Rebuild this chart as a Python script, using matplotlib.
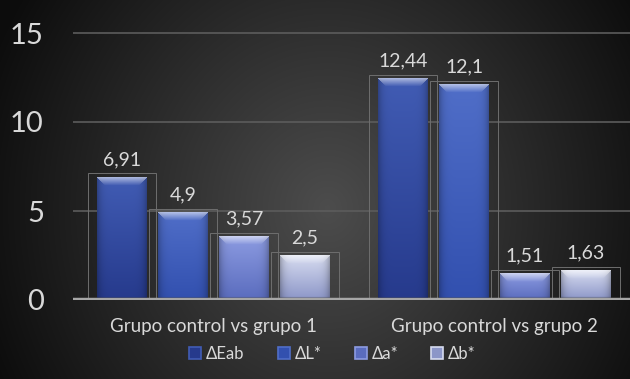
import numpy as np
import matplotlib.pyplot as plt
from matplotlib.patches import Patch

categories = ["Grupo control vs grupo 1", "Grupo control vs grupo 2"]
series = ["ΔEab", "ΔL*", "Δa*", "Δb*"]
values = [
    [6.91, 12.44],
    [4.9, 12.1],
    [3.57, 1.51],
    [2.5, 1.63],
]
labels = [
    ["6,91", "12,44"],
    ["4,9", "12,1"],
    ["3,57", "1,51"],
    ["2,5", "1,63"],
]
yticks = [0, 5, 10, 15]

# base colours (top, bottom) for each series
colors = [
    ((65, 92, 180), (38, 58, 140)),
    ((80, 110, 200), (50, 80, 175)),
    ((140, 155, 225), (90, 108, 190)),
    ((215, 220, 240), (140, 150, 200)),
]

plt.rcParams['font.family'] = ['Lato', 'DejaVu Sans']

fig = plt.figure(figsize=(6.3, 3.79), dpi=100)

# dark radial background
bg = fig.add_axes([0, 0, 1, 1], zorder=-10)
yy, xx = np.mgrid[0:1:379j, 0:1:630j]
d = np.sqrt(((xx - 0.52) / 0.55) ** 2 + ((yy - 0.55) / 1.0) ** 2)
v = np.clip(0.30 - 0.24 * d, 0.05, 1)
bg.imshow(np.dstack([v, v, v]), extent=[0, 1, 0, 1], aspect='auto')
bg.axis('off')

ax = fig.add_axes([73 / 630, 79 / 379, 557 / 630, 284.8 / 379])
ax.patch.set_alpha(0)
ax.set_xlim(-0.5, 1.482)
ax.set_ylim(0, 16)
for s in ax.spines.values():
    s.set_visible(False)

for t in yticks[1:]:
    ax.axhline(t, color='#5c5c5c', lw=1.2, zorder=1)
ax.axhline(0, color='#a6a6a6', lw=3.2, zorder=4)

px_per_unit = 17.8
slot = 0.217
face = 0.175
box = 0.245
offsets = [-1.5 * slot, -0.5 * slot, 0.5 * slot, 1.5 * slot]


def bar_image(val, top, bottom):
    h = max(int(val * px_per_unit), 4)
    w = 49
    top = np.array(top) / 255
    bottom = np.array(bottom) / 255
    t = np.linspace(0, 1, h)[:, None, None]
    img = top * (1 - t) + bottom * t
    img = np.repeat(img, w, axis=1)
    # darker side edges
    xs = np.linspace(-1, 1, w)
    shade = 1 - 0.25 * np.abs(xs) ** 6
    img = img * shade[None, :, None]
    # lighter bevel at the top
    bev = min(8, h // 2)
    for r in range(bev):
        k = 1 - r / bev
        lo, hi = r, w - r
        img[r, lo:hi] = img[r, lo:hi] + (1 - img[r, lo:hi]) * 0.55 * k
    # darker bevel at the bottom
    for r in range(3):
        img[h - 1 - r] = img[h - 1 - r] * 0.75
    return np.clip(img, 0, 1)


for i, name in enumerate(series):
    for j, val in enumerate(values[i]):
        x = j + offsets[i]
        # outline box behind each bar
        ax.add_patch(plt.Rectangle((x - box / 2, -0.1), box, val + 0.3,
                                   fill=False, ec='#6e6e6e', lw=0.7, zorder=2))
        ax.imshow(bar_image(val, *colors[i]),
                  extent=[x - face / 2, x + face / 2, 0, val],
                  aspect='auto', zorder=3, interpolation='bilinear')
        ax.annotate(labels[i][j], (x, val + 0.2), xytext=(0, 4),
                    textcoords='offset points', ha='center', va='bottom',
                    color='#d9d9d9', fontsize=14, zorder=5)

ax.set_xlim(-0.5, 1.482)
ax.set_ylim(0, 16)
ax.set_xticks([0, 1])
ax.set_xticklabels(categories, color='#d9d9d9', fontsize=13.5)
ax.set_yticks(yticks)
ax.set_yticklabels([str(t) for t in yticks], color='#d9d9d9', fontsize=21)
ax.tick_params(axis='both', length=0)
ax.tick_params(axis='x', pad=13)
ax.tick_params(axis='y', pad=21)

handles = [Patch(facecolor=np.array(colors[i][1]) / 255,
                 edgecolor=np.array(colors[i][0]) / 255, lw=1.2)
           for i in range(len(series))]
fig.legend(handles, series, loc='center', bbox_to_anchor=(0.528, 0.066),
           ncol=4, frameon=False, fontsize=12, labelcolor='#d9d9d9',
           handlelength=0.7, handleheight=0.7, handletextpad=0.3,
           columnspacing=2.0)

fig.savefig('out.png', dpi=100)
